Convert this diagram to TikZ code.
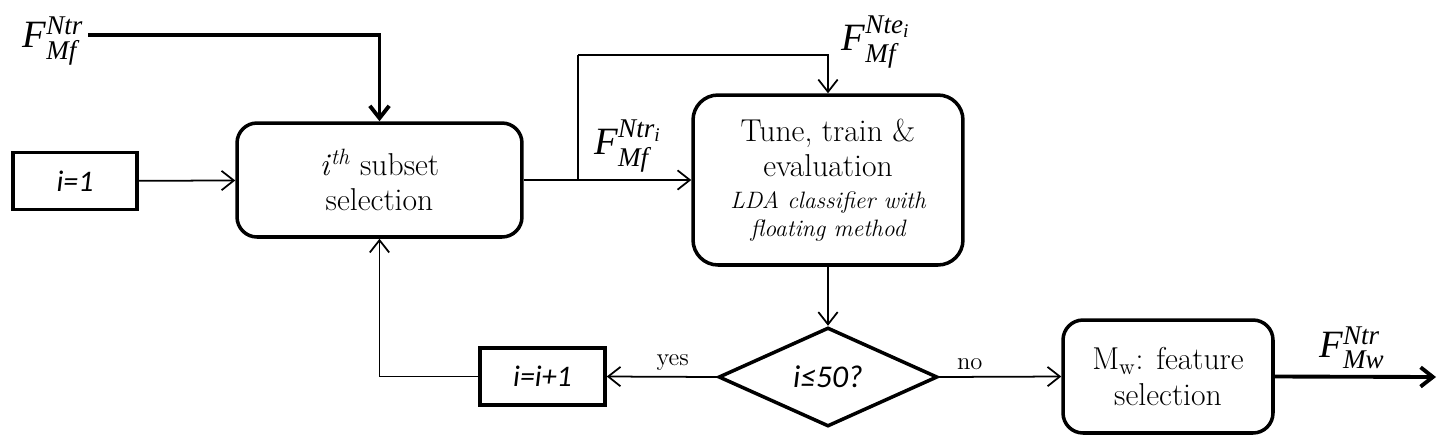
\documentclass[tikz,border=0pt]{standalone}
\usepackage{amsmath}
\usepackage{fontspec}
\usetikzlibrary{shapes.geometric,arrows.meta}
\newfontfamily\calfont{Carlito}
\newfontfamily\timesfont{Liberation Serif}
\newcommand{\tx}[1]{\text{\timesfont\itshape #1}}
\newcommand{\fsig}[2]{{\timesfont\itshape F}$^{#1}_{#2}$}
\tikzset{
  box/.style      = {shape=rectangle, draw, line width=2pt, align=center, inner sep=2pt},
  process/.style  = {box, rounded corners=0.4cm, font=\fontsize{18}{20}\selectfont},
  counter/.style  = {box, font=\calfont\itshape\fontsize{17}{20}\selectfont},
  decision/.style = {shape=diamond, draw, line width=2pt, inner sep=0pt,
                     font=\calfont\itshape\fontsize{18}{20}\selectfont},
  flow/.style     = {draw, line width=1pt, -{Straight Barb[length=7pt,width=11pt]}},
  bigflow/.style  = {flow, line width=2.2pt},
  signal/.style   = {inner sep=0pt, font=\fontsize{22}{22}\selectfont},
  answer/.style   = {font=\fontsize{14}{16}\selectfont},
}

\begin{document}
\begin{tikzpicture}
	[
		x = 0.02cm,
		y = -0.02cm
	]
	\useasboundingbox (0,0) rectangle (1440,434);
	% boxes
	\node [counter, minimum width=2.48cm, minimum height=1.14cm] (init) at (75,181) {i=1};
	\node [process, minimum width=5.7cm, minimum height=2.28cm] (subset) at (379.5,180)
		{\textit{i}\textsuperscript{\textit{th}} subset\\ selection};
	\node [process, rounded corners=0.5cm, minimum width=5.4cm, minimum height=3.4cm] (tune) at (828,180)
		{Tune, train \&\\ evaluation\\[-2pt]
		 {\fontsize{13.5}{16}\selectfont\itshape LDA classifier with}\\[-4pt]
		 {\fontsize{13.5}{16}\selectfont\itshape floating method}};
	\node [decision, minimum width=4.38cm, minimum height=1.98cm] (check) at (828,377) {i≤50?};
	\node [counter, minimum width=2.5cm, minimum height=1.14cm] (incr) at (542.5,376.5) {i=i+1};
	\node [process, minimum width=4.2cm, minimum height=2.26cm] (select) at (1168,376.5)
		{M\textsubscript{w}: feature\\ selection};
	% signals
	\node [signal] (trainIn) at (53,41) {\fsig{\tx{Ntr}}{\tx{Mf}}};
	\node [signal] (trainI) at (628,146) {\fsig{\tx{Ntr}_{\tx{i}}}{\tx{Mf}}};
	\node [signal] (testI) at (876,42) {\fsig{\tx{Nte}_{\tx{i}}}{\tx{Mf}}};
	\node [signal, anchor=south] (trainOut) at (1352,369) {\fsig{\tx{Ntr}}{\tx{Mw}}};
	\coordinate (inStart) at (88,35);
	\coordinate (split) at (578,180);
	\coordinate (loopTop) at (578,55);
	\coordinate (outEnd) at (1436,377);
	% connectors
	\draw [bigflow] (inStart) -| (subset.north);
	\draw [flow] (init) -- (subset);
	\draw [line width=1pt] (subset.east) -- (split) -- (loopTop);
	\draw [flow] (split) -- (tune.west |- split);
	\draw [flow] (loopTop) -| (tune.north);
	\draw [flow] (tune) -- (check);
	\draw [flow] (check.west) -- node [answer, above, pos=0.4] {yes} (incr.east);
	\draw [flow] (check.east) -- node [answer, above, pos=0.25] {no} (select.west);
	\draw [flow] (incr.west) -| (subset.south);
	\draw [bigflow] (select.east) -- (outEnd);
\end{tikzpicture}
\end{document}
